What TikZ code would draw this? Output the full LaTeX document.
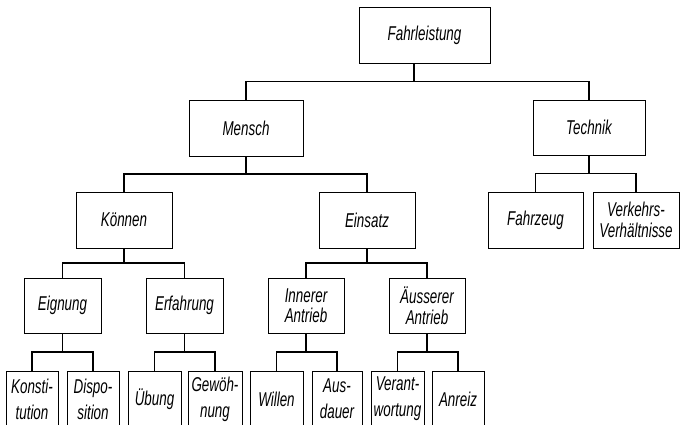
\documentclass[tikz,border=0pt]{standalone}
\usepackage{fontspec}
\newfontfamily\lbl[FakeStretch=0.67]{Liberation Sans}
\usetikzlibrary{calc}
\begin{document}
\begin{tikzpicture}[x=1pt,y=-1pt,
  box/.style={draw, line width=0.8pt, rectangle, inner sep=0pt, align=center,
    minimum height=56pt, font=\lbl\itshape\fontsize{20}{20.5}\selectfont},
  leaf/.style={box, font=\lbl\itshape\fontsize{20}{26}\selectfont},
  conn/.style={line width=1.3pt, line join=miter}]
\clip (0,0) rectangle (681,425);
% level 0
\node[box, minimum width=131pt] (fahr) at (424.5,35) {Fahrleistung};
% level 1
\node[box, minimum width=114pt] (mensch) at (246,128) {Mensch};
\node[box, minimum width=112pt, minimum height=55pt] (technik) at (589,127.5) {Technik};
% level 2
\node[box, minimum width=96pt] (koennen) at (124,220) {Können};
\node[box, minimum width=96pt] (einsatz) at (367,220) {Einsatz};
\node[box, minimum width=95pt] (fahrzeug) at (535.5,220) {Fahrzeug};
\node[box, minimum width=86pt] (verkehr) at (636,220) {Verkehrs-\\Verhältnisse};
% level 3
\node[box, minimum width=77pt, minimum height=55pt] (eignung) at (62.5,305.5) {Eignung};
\node[box, minimum width=77pt, minimum height=55pt] (erfahrung) at (184.5,305.5) {Erfahrung};
\node[box, minimum width=76pt, minimum height=55pt] (innerer) at (306,305.5) {Innerer\\Antrieb};
\node[box, minimum width=76pt, minimum height=55pt] (aeusserer) at (427,305.5) {Äusserer\\Antrieb};
% level 4 (cut off at bottom)
\node[leaf, minimum width=52pt] (konst) at (32,399) {Konsti-\\tution};
\node[leaf, minimum width=52pt] (dispo) at (93,399) {Dispo-\\sition};
\node[leaf, minimum width=53pt] (uebung) at (154.5,399) {Übung};
\node[leaf, minimum width=54pt] (gewoehn) at (215,399) {Gewöh-\\nung};
\node[leaf, minimum width=53pt] (willen) at (276.5,399) {Willen};
\node[leaf, minimum width=50pt] (ausdauer) at (337,399) {Aus-\\dauer};
\node[leaf, minimum width=53pt] (verant) at (397.5,399) {Verant-\\wortung};
\node[leaf, minimum width=52pt] (anreiz) at (458,399) {Anreiz};
% connectors
\coordinate (m0) at ($(fahr.south)!0.5!(mensch.north)$);
\draw[conn] ([xshift=-10.5pt]fahr.south) -- ([xshift=-10.5pt]fahr.south |- m0);
\draw[conn] (mensch.north) -- (mensch.north |- m0) -- (technik.north |- m0) -- (technik.north);

\coordinate (m1) at ($(mensch.south)!0.5!(koennen.north)$);
\draw[conn] (mensch.south) -- (mensch.south |- m1);
\draw[conn] (koennen.north) -- (koennen.north |- m1) -- (einsatz.north |- m1) -- (einsatz.north);

\coordinate (m2) at ($(technik.south)!0.5!(fahrzeug.north)$);
\draw[conn] (technik.south) -- (technik.south |- m2);
\draw[conn] (fahrzeug.north) -- (fahrzeug.north |- m2) -- (verkehr.north |- m2) -- (verkehr.north);

\coordinate (m3) at ($(koennen.south)!0.5!(eignung.north)$);
\draw[conn] (koennen.south) -- (koennen.south |- m3);
\draw[conn] (eignung.north) -- (eignung.north |- m3) -- (erfahrung.north |- m3) -- (erfahrung.north);

\coordinate (m4) at ($(einsatz.south)!0.5!(innerer.north)$);
\draw[conn] (einsatz.south) -- (einsatz.south |- m4);
\draw[conn] (innerer.north) -- (innerer.north |- m4) -- (aeusserer.north |- m4) -- (aeusserer.north);

\coordinate (m5) at ($(eignung.south)!0.5!(konst.north)$);
\draw[conn] (eignung.south) -- (eignung.south |- m5);
\draw[conn] (konst.north) -- (konst.north |- m5) -- (dispo.north |- m5) -- (dispo.north);

\coordinate (m6) at ($(erfahrung.south)!0.5!(uebung.north)$);
\draw[conn] (erfahrung.south) -- (erfahrung.south |- m6);
\draw[conn] (uebung.north) -- (uebung.north |- m6) -- (gewoehn.north |- m6) -- (gewoehn.north);

\coordinate (m7) at ($(innerer.south)!0.5!(willen.north)$);
\draw[conn] (innerer.south) -- (innerer.south |- m7);
\draw[conn] (willen.north) -- (willen.north |- m7) -- (ausdauer.north |- m7) -- (ausdauer.north);

\coordinate (m8) at ($(aeusserer.south)!0.5!(verant.north)$);
\draw[conn] (aeusserer.south) -- (aeusserer.south |- m8);
\draw[conn] (verant.north) -- (verant.north |- m8) -- (anreiz.north |- m8) -- (anreiz.north);
\end{tikzpicture}
\end{document}
